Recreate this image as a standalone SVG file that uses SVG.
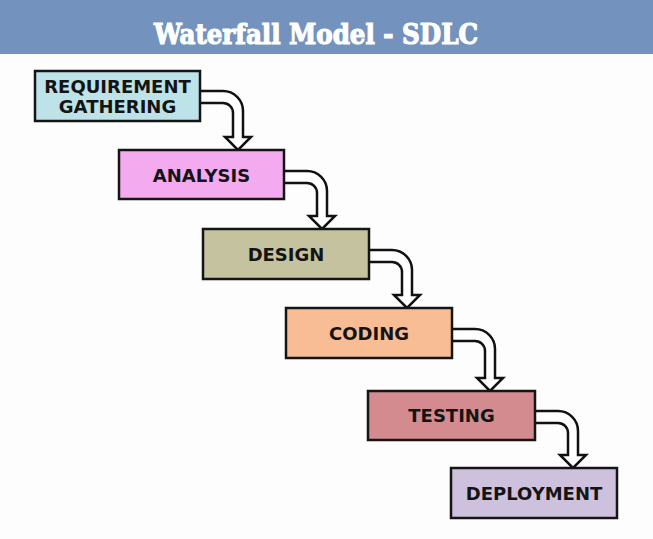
<svg xmlns="http://www.w3.org/2000/svg" width="653" height="539" viewBox="0 0 653 539">
<style>
.box{stroke:#151515;stroke-width:2.5}
.lbl{font-family:"DejaVu Sans",Verdana,sans-serif;font-weight:bold;font-size:18px;fill:#141414;text-anchor:middle}
.arr{fill:#ffffff;stroke:#111111;stroke-width:2.5;stroke-linejoin:miter}
</style>
<rect x="0" y="0" width="653" height="539" fill="#fdfdfd"/>
<rect x="0" y="0" width="653" height="54" fill="#7393be"/>
<text x="316" y="44" font-family="'DejaVu Serif',serif" font-weight="bold" font-size="27" fill="#ffffff" stroke="#ffffff" stroke-width="1.2" text-anchor="middle" textLength="324" lengthAdjust="spacingAndGlyphs">Waterfall Model - SDLC</text>
<g id="connectors">
<path class="arr" d="M200,91 H223 A20,20 0 0 1 243,111 V137 H251 L238,150 L225,137 H233 V113 A10,10 0 0 0 223,103 H200"/>
<path class="arr" d="M284,171 H307 A20,20 0 0 1 327,191 V216 H335 L322,229 L309,216 H317 V193 A10,10 0 0 0 307,183 H284"/>
<path class="arr" d="M369,250 H392 A20,20 0 0 1 412,270 V295 H420 L407,308 L394,295 H402 V272 A10,10 0 0 0 392,262 H369"/>
<path class="arr" d="M452,329 H475 A20,20 0 0 1 495,349 V378 H503 L490,391 L477,378 H485 V351 A10,10 0 0 0 475,341 H452"/>
<path class="arr" d="M535,411 H558 A20,20 0 0 1 578,431 V455 H586 L573,468 L560,455 H568 V433 A10,10 0 0 0 558,423 H535"/>
</g>
<g id="requirement">
<rect class="box" x="35" y="71" width="165" height="50" fill="#bde2e7"/>
<text class="lbl" x="117.5" y="92.5">REQUIREMENT</text>
<text class="lbl" x="117.5" y="112.5">GATHERING</text>
</g>
<g id="analysis">
<rect class="box" x="119" y="150" width="165" height="49" fill="#f3aaef"/>
<text class="lbl" x="201.5" y="181.5">ANALYSIS</text>
</g>
<g id="design">
<rect class="box" x="203" y="229" width="166" height="50" fill="#c5c29f"/>
<text class="lbl" x="286" y="260.5">DESIGN</text>
</g>
<g id="coding">
<rect class="box" x="286" y="308" width="166" height="50" fill="#f8bd95"/>
<text class="lbl" x="369" y="339.5">CODING</text>
</g>
<g id="testing">
<rect class="box" x="368" y="391" width="167" height="49" fill="#d38b90"/>
<text class="lbl" x="451.5" y="422">TESTING</text>
</g>
<g id="deployment">
<rect class="box" x="451" y="468" width="166" height="50" fill="#cdc1de"/>
<text class="lbl" x="534" y="499.5">DEPLOYMENT</text>
</g>
</svg>
